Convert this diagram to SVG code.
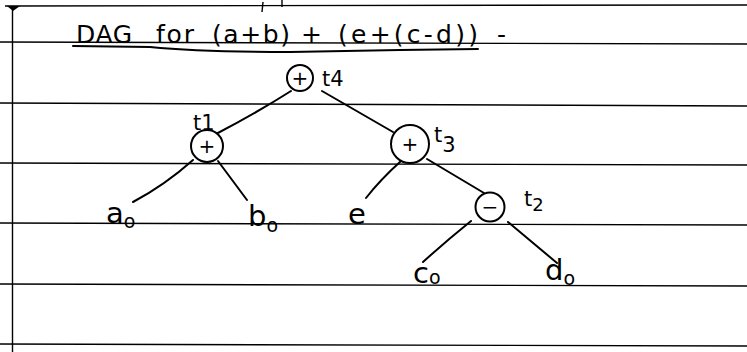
<svg xmlns="http://www.w3.org/2000/svg" width="747" height="352" viewBox="0 0 747 352">
<style>
.page{stroke:#000;stroke-width:1.4;fill:none}
.edge{stroke:#000;stroke-width:2;fill:none;stroke-linecap:round}
.op{stroke:#000;stroke-width:2;fill:#fff}
.sym{font-family:"DejaVu Sans","Liberation Sans",sans-serif;font-size:20px;fill:#000;text-anchor:middle}
.lbl{font-family:"DejaVu Sans","Liberation Sans",sans-serif;font-size:21px;fill:#000}
.leaf{font-family:"DejaVu Sans","Liberation Sans",sans-serif;font-size:29px;fill:#000}
.sub{font-size:19px}
.title{font-family:"DejaVu Sans","Liberation Sans",sans-serif;font-size:25px;fill:#000}
</style>
<rect width="747" height="352" fill="#fff"/>
<g id="paper">
<path class="page" d="M5,6 L747,5" stroke-width="2.6"/>
<path class="page" d="M0,42 L747,44"/>
<path class="page" d="M0,103 L747,106"/>
<path class="page" d="M0,163 L747,165"/>
<path class="page" d="M0,223 L747,225"/>
<path class="page" d="M0,284 L747,286"/>
<path class="page" d="M0,344 L747,346"/>
<path class="page" d="M12.5,6 L12.5,352" stroke-width="2.6"/>
<path d="M7,6 L20,6 L13,11 Z" fill="#000"/>
<path class="page" d="M263,2 L262,12"/>
<path class="page" d="M282,0 L282,7" stroke-width="2"/>
</g>
<g id="title">
<text class="title" y="43"><tspan x="76" textLength="56">DAG</tspan><tspan x="156" textLength="38">for</tspan><tspan x="212" textLength="78">(a+b)</tspan><tspan x="301">+</tspan><tspan x="338" textLength="140">(e+(c-d))</tspan><tspan x="497">-</tspan></text>
<path class="edge" d="M73,46 L150,47 Q200,52 290,52 L400,50 L478,49" stroke-width="1.8"/>
</g>
<g id="connectors">
<path class="edge" d="M291,91 Q258,112 216,134"/>
<path class="edge" d="M322,91 L393,132"/>
<path class="edge" d="M193,160 Q165,185 133,202"/>
<path class="edge" d="M218,161 L247,200"/>
<path class="edge" d="M401,161 Q380,180 366,198"/>
<path class="edge" d="M427,159 L484,193"/>
<path class="edge" d="M471,221 Q445,242 423,262"/>
<path class="edge" d="M508,222 L557,263"/>
</g>
<g id="n-t4">
<circle class="op" cx="300" cy="78" r="13"/>
<text class="sym" x="300" y="85">+</text>
<text class="lbl" x="322" y="86" font-size="18">t4</text>
</g>
<g id="n-t1">
<circle class="op" cx="207" cy="146" r="16"/>
<text class="sym" x="207" y="153">+</text>
<text class="lbl" x="193" y="130">t1</text>
</g>
<g id="n-t3">
<circle class="op" cx="410" cy="144" r="19"/>
<text class="sym" x="410" y="151">+</text>
<text class="lbl" x="434" y="142" font-size="24">t<tspan font-size="21" dy="10">3</tspan></text>
</g>
<g id="n-t2">
<circle class="op" cx="490" cy="207" r="14.5"/>
<text class="sym" x="490" y="214">−</text>
<text class="lbl" x="524" y="206" font-size="23">t<tspan font-size="18" dy="5">2</tspan></text>
</g>
<g id="n-a">
<text class="leaf" x="106" y="223">a<tspan class="sub" dy="5">o</tspan></text>
</g>
<g id="n-b">
<text class="leaf" x="248" y="226">b<tspan class="sub" dy="6">o</tspan></text>
</g>
<g id="n-e">
<text class="leaf" x="348" y="224">e</text>
</g>
<g id="n-c">
<text class="leaf" x="413" y="283">c<tspan class="sub" dy="1">o</tspan></text>
</g>
<g id="n-d">
<text class="leaf" x="545" y="280">d<tspan class="sub" font-size="21" dy="5">o</tspan></text>
</g>
</svg>
